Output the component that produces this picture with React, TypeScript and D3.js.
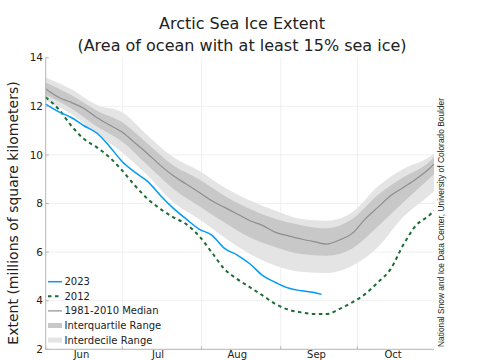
import React from 'react';
import * as d3 from 'd3';

// dates every 5 days, Jun 1 -> Oct 31
const lineDates = [
  '2023-06-01', '2023-06-06', '2023-06-11', '2023-06-16', '2023-06-21', '2023-06-26',
  '2023-07-01', '2023-07-06', '2023-07-11', '2023-07-16', '2023-07-21', '2023-07-26', '2023-07-31',
  '2023-08-05', '2023-08-10', '2023-08-15', '2023-08-20', '2023-08-25', '2023-08-30',
  '2023-09-04', '2023-09-09', '2023-09-14', '2023-09-19', '2023-09-24', '2023-09-29',
  '2023-10-04', '2023-10-09', '2023-10-14', '2023-10-19', '2023-10-24', '2023-10-29', '2023-10-31',
];
const median = [
  12.71, 12.37, 12.16, 11.91, 11.54, 11.23,
  10.93, 10.49, 10.04, 9.56, 9.14, 8.8, 8.46,
  8.11, 7.84, 7.57, 7.29, 7.09, 6.81,
  6.67, 6.54, 6.43, 6.33, 6.5, 6.77,
  7.36, 7.84, 8.32, 8.66, 9.01, 9.42, 9.62,
];
const extent2012 = [
  12.37, 11.89, 11.2, 10.65, 10.31, 9.9,
  9.35, 8.73, 8.18, 7.77, 7.43, 7.15, 6.67,
  5.99, 5.3, 4.89, 4.55, 4.21, 3.86,
  3.63, 3.52, 3.45, 3.45, 3.66, 3.93,
  4.27, 4.75, 5.3, 6.3, 7.1, 7.5, 7.71,
];
const dates2023 = [...lineDates.slice(0, 22), '2023-09-17'];
const extent2023 = [
  12.09, 11.78, 11.54, 11.2, 10.9, 10.35,
  9.72, 9.28, 8.9, 8.32, 7.8, 7.36, 6.95,
  6.7, 6.15, 5.88, 5.51, 5.03, 4.75,
  4.52, 4.41, 4.34, 4.26,
];

// range bands, every 10 days
const bandDates = [
  '2023-06-01', '2023-06-11', '2023-06-21', '2023-07-01', '2023-07-11', '2023-07-21',
  '2023-07-31', '2023-08-10', '2023-08-20', '2023-08-30', '2023-09-09', '2023-09-19',
  '2023-09-29', '2023-10-09', '2023-10-19', '2023-10-29', '2023-10-31',
];
const idrHigh = [13.19, 12.7, 12.05, 11.75, 10.79, 9.9, 9.35, 8.66, 8.12, 7.7, 7.36, 7.29, 7.64, 8.7, 9.42, 9.9, 10.05];
const iqrHigh = [12.98, 12.46, 11.82, 11.34, 10.45, 9.56, 9.0, 8.32, 7.77, 7.36, 7.11, 6.98, 7.36, 8.35, 9.08, 9.7, 9.9];
const iqrLow = [12.46, 11.91, 11.17, 10.54, 9.56, 8.6, 7.9, 7.22, 6.6, 6.2, 5.92, 5.85, 6.15, 7.05, 8.05, 9.01, 9.2];
const idrLow = [12.23, 11.68, 10.86, 10.1, 9.14, 8.05, 7.36, 6.6, 5.92, 5.44, 5.19, 5.14, 5.44, 6.2, 7.45, 8.32, 8.5];

const yTicks = [2, 4, 6, 8, 10, 12, 14];
const legendLabels = ['2023', '2012', '1981-2010 Median', 'Interquartile Range', 'Interdecile Range'];

const W = 485;
const H = 360;
const FONT = 'DejaVu Sans';

const parse = d3.timeParse('%Y-%m-%d');

export default function App() {
  const x = d3.scaleTime()
    .domain([parse('2023-06-01')!, parse('2023-10-31')!])
    .range([45.7, 434]);
  const y = d3.scaleLinear().domain([2, 14]).range([349.3, 57.7]);

  const months = x.ticks(d3.timeMonth.every(1));

  const line = d3.line<[Date, number]>()
    .x((d) => x(d[0]))
    .y((d) => y(d[1]))
    .curve(d3.curveMonotoneX);

  const band = d3.area<[Date, number, number]>()
    .x((d) => x(d[0]))
    .y0((d) => y(d[1]))
    .y1((d) => y(d[2]))
    .curve(d3.curveMonotoneX);

  const bd = bandDates.map((s) => parse(s)!);
  const idr = band(bd.map((d, i) => [d, idrLow[i], idrHigh[i]]));
  const iqr = band(bd.map((d, i) => [d, iqrLow[i], iqrHigh[i]]));
  const medPath = line(lineDates.map((s, i) => [parse(s)!, median[i]]));
  const p2012 = line(lineDates.map((s, i) => [parse(s)!, extent2012[i]]));
  const p2023 = line(dates2023.map((s, i) => [parse(s)!, extent2023[i]]));

  const [x0, x1] = x.range();
  const [yb, yt] = y.range();

  const legendStyles = [
    { stroke: '#009AFA', width: 1.5, dash: undefined },
    { stroke: '#1d6b35', width: 2, dash: '3.5 3.5' },
    { stroke: '#8e8e8e', width: 1.2, dash: undefined },
    { stroke: '#c8c8c8', width: 5, dash: undefined },
    { stroke: '#e4e4e4', width: 5, dash: undefined },
  ];

  return (
    <svg width={W} height={H} style={{ position: 'absolute', left: 0, top: 0, background: '#fff' }}
      fontFamily={FONT}>
      {/* title */}
      <text x={242} y={29} textAnchor="middle" fontSize={16} fill="#222">Arctic Sea Ice Extent</text>
      <text x={242} y={51} textAnchor="middle" fontSize={16} fill="#222">(Area of ocean with at least 15% sea ice)</text>

      {/* grid */}
      {yTicks.filter((t) => t > 2 && t < 14).map((t) => (
        <line key={`gy${t}`} x1={x0} x2={x1} y1={y(t)} y2={y(t)} stroke="#ececec" strokeWidth={0.8} />
      ))}
      {months.slice(1).map((m) => (
        <line key={`gx${+m}`} x1={x(m)} x2={x(m)} y1={yt} y2={yb} stroke="#ececec" strokeWidth={0.8} />
      ))}

      {/* ranges and lines */}
      <path d={idr!} fill="#e4e4e4" />
      <path d={iqr!} fill="#c8c8c8" />
      <path d={medPath!} fill="none" stroke="#8e8e8e" strokeWidth={1.2} />
      <path d={p2012!} fill="none" stroke="#1d6b35" strokeWidth={2} strokeDasharray="3.5 3.5" />
      <path d={p2023!} fill="none" stroke="#009AFA" strokeWidth={1.5} />

      {/* axes */}
      <line x1={x0} x2={x0} y1={yt} y2={yb} stroke="#b5b5b5" strokeWidth={1} />
      <line x1={x0} x2={x1} y1={yb} y2={yb} stroke="#b5b5b5" strokeWidth={1} />
      {yTicks.map((t) => (
        <g key={`yt${t}`}>
          <line x1={x0} x2={x0 + 3} y1={y(t)} y2={y(t)} stroke="#b5b5b5" />
          <text x={43} y={y(t)} dy="0.35em" textAnchor="end" fontSize={10.5} fill="#222">{t}</text>
        </g>
      ))}
      {months.map((m) => (
        <g key={`xt${+m}`}>
          <line x1={x(m)} x2={x(m)} y1={yb} y2={yb - 3} stroke="#b5b5b5" />
          <text x={x(d3.timeDay.offset(m, 14))} y={358} textAnchor="middle" fontSize={10} fill="#222">
            {d3.timeFormat('%b')(m)}
          </text>
        </g>
      ))}

      {/* y label */}
      <text transform="translate(18,213) rotate(-90)" textAnchor="middle" fontSize={14} fill="#222">
        Extent (millions of square kilometers)
      </text>

      {/* source */}
      <text transform="translate(444,347) rotate(-90)" textAnchor="start" fontSize={8.4}
        fontFamily="Liberation Sans" fill="#222">
        National Snow and Ice Data Center, University of Colorado Boulder
      </text>

      {/* legend */}
      {legendLabels.map((lab, i) => {
        const ly = 281.7 + i * 14.6;
        const s = legendStyles[i];
        return (
          <g key={lab}>
            <line x1={48} x2={62} y1={ly} y2={ly} stroke={s.stroke} strokeWidth={s.width}
              strokeDasharray={s.dash} />
            <text x={64.5} y={ly} dy="0.35em" fontSize={10} fill="#222">{lab}</text>
          </g>
        );
      })}
    </svg>
  );
}
